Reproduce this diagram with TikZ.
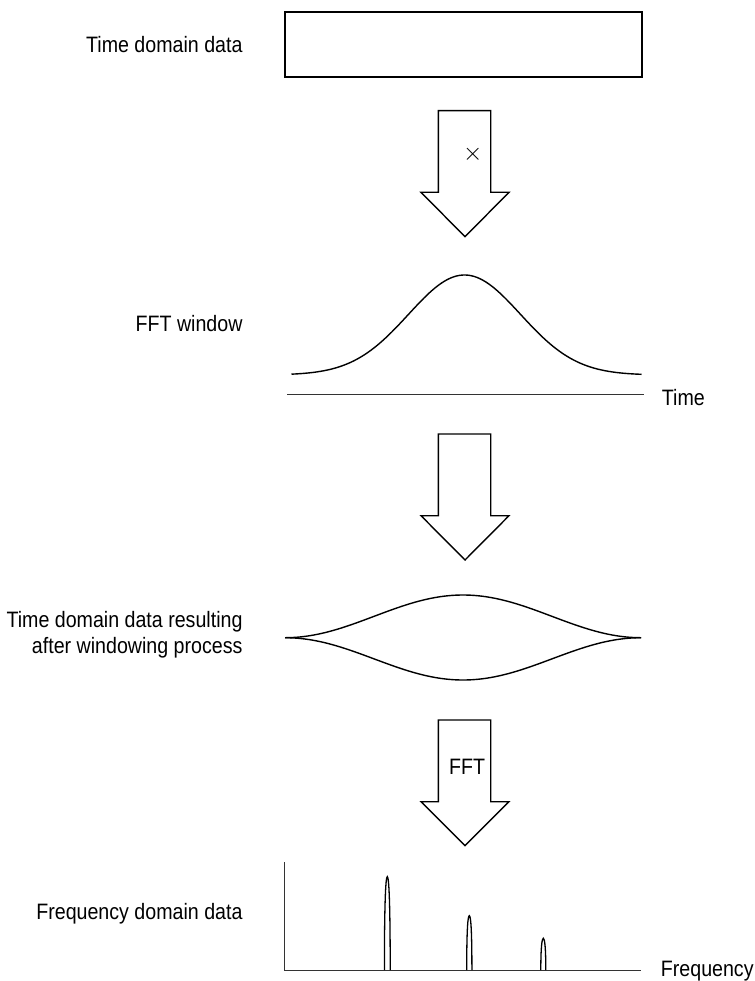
\documentclass[tikz,border=0pt]{standalone}
\usepackage{fontspec}
\setmainfont{Liberation Sans}[FakeStretch=0.88]
\begin{document}
\begin{tikzpicture}[x=1pt,y=-1pt,
  lbl/.style={font=\fontsize{22.3}{26}\selectfont, inner sep=0pt},
  bigarrow/.style={draw=black, line width=1.4pt, line join=miter, fill=white},
  axisline/.style={draw=black!80, line width=0.9pt},
  curve/.style={draw=black, line width=1.4pt},
  spike/.style={draw=black, line width=1.3pt}]
\useasboundingbox (0,0) rectangle (754,981);

% Time domain data
\node[draw=black, line width=1.4pt, minimum width=357pt, minimum height=65pt, inner sep=0pt] (box) at (463.5,44.5) {};
\node[lbl, anchor=base east] (l1) at (242.7,52.3) {Time domain data};

% arrow 1 with x
\draw[bigarrow] (438.3,110.7) -- (490.7,110.7) -- (490.7,192.3) -- (509,192.3) -- (465,236.7) -- (421,192.3) -- (438.3,192.3) -- cycle;
\node[font=\fontsize{28}{28}\selectfont, inner sep=0pt] (times) at (472.7,154) {$\times$};

% FFT window
\node[lbl, anchor=base east] (l2) at (242.7,331.7) {FFT window};
\draw[curve, domain=-173:177, samples=120, smooth] plot (464.5+\x, {375-100*exp(-(\x/56)^2/2)});
\draw[axisline] (287.3,394) -- (644.3,394);
\node[lbl, anchor=base west] (time) at (661.7,405.7) {Time};

% arrow 2
\draw[bigarrow] (438.3,434) -- (490.7,434) -- (490.7,515.7) -- (509,515.7) -- (465,560) -- (421,515.7) -- (438.3,515.7) -- cycle;

% windowed data
\node[lbl, anchor=base east] (l3a) at (242.7,627.7) {Time domain data resulting};
\node[lbl, anchor=base east] (l3b) at (242.7,653.7) {after windowing process};
\draw[curve, domain=-178:178, samples=120, smooth] plot (463+\x, {637.7-42.7*0.5*(1+cos(\x/178*180))});
\draw[curve, domain=-178:178, samples=120, smooth] plot (463+\x, {637.7+42.3*0.5*(1+cos(\x/178*180))});

% arrow 3 FFT
\draw[bigarrow] (438.3,720) -- (490.7,720) -- (490.7,801.7) -- (509,801.7) -- (465,845.7) -- (421,801.7) -- (438.3,801.7) -- cycle;
\node[lbl, anchor=base] (fft) at (467,774) {FFT};

% frequency domain
\node[lbl, anchor=base east] (l4) at (242.7,919.5) {Frequency domain data};
\draw[axisline] (284.7,862.3) -- (284.7,970) -- (641,970);
\node[lbl, anchor=base west] (freq) at (660.7,976.7) {Frequency};
\draw[spike] (384.4,970) .. controls (384.4,905) and (385.6,876.7) .. (387.3,876.7) .. controls (389,876.7) and (390.2,905) .. (390.2,970);
\draw[spike] (466.7,970) .. controls (466.7,930) and (467.8,915.7) .. (469.3,915.7) .. controls (470.8,915.7) and (471.9,930) .. (471.9,970);
\draw[spike] (540.8,970) .. controls (540.8,948) and (541.9,938.3) .. (543.3,938.3) .. controls (544.7,938.3) and (545.8,948) .. (545.8,970);
\end{tikzpicture}
\end{document}
